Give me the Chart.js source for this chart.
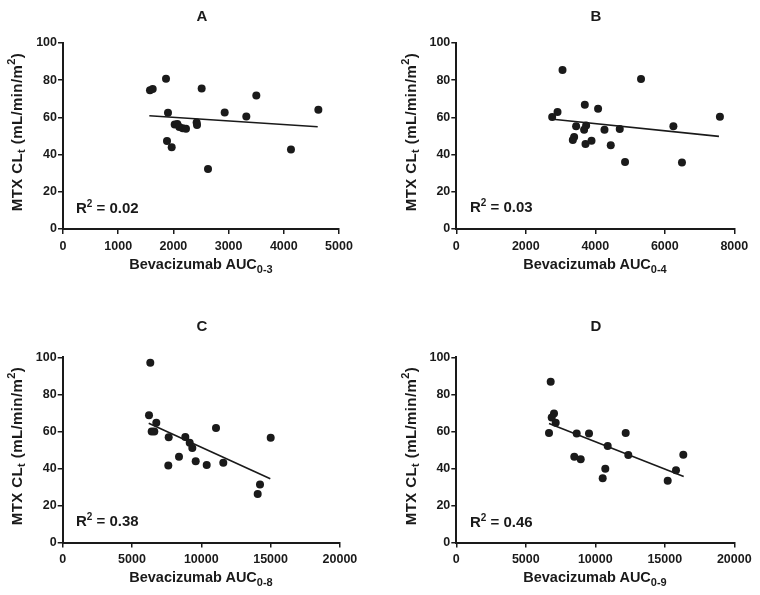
<!DOCTYPE html>
<html>
<head>
<meta charset="utf-8">
<script src="https://cdn.jsdelivr.net/npm/chart.js@4.4.1/dist/chart.umd.min.js"></script>
<style>
  html, body { margin: 0; padding: 0; background: #fff; }
  #wrap { position: relative; width: 760px; height: 595px; overflow: hidden; font-family: "Liberation Sans", Arial, sans-serif; color: #1a1a1a; }
  canvas { position: absolute; }
  .t { position: absolute; font-weight: bold; white-space: nowrap; transform: translate(-50%, -50%); line-height: 1; }
  .letter { font-size: 15px; }
  .xt { font-size: 14.5px; }
  .xt sub { font-size: 11px; vertical-align: -4px; }
  .yt { font-size: 15px; letter-spacing: 0.4px; transform: translate(-50%, -50%) rotate(-90deg); }
  .yt sub { font-size: 11px; vertical-align: -3px; }
  .yt sup { font-size: 11px; vertical-align: 7px; }
  .r2 sup { font-size: 10px; vertical-align: 6px; }
  .r2 { position: absolute; font-weight: bold; font-size: 15px; white-space: nowrap; transform: translateY(-50%); line-height: 1; }
</style>
</head>
<body>
<div id="wrap">
  <canvas id="cA" width="380" height="297" style="left:0;top:0"></canvas>
  <canvas id="cB" width="380" height="297" style="left:380px;top:0"></canvas>
  <canvas id="cC" width="380" height="298" style="left:0;top:297px"></canvas>
  <canvas id="cD" width="380" height="298" style="left:380px;top:297px"></canvas>

  <div class="t letter" style="left:202px;top:15px">A</div>
  <div class="t letter" style="left:596px;top:15px">B</div>
  <div class="t letter" style="left:202px;top:325px">C</div>
  <div class="t letter" style="left:596px;top:325px">D</div>

  <div class="t yt" style="left:16px;top:132px">MTX CL<sub>t</sub> (mL/min/m<sup>2</sup>)</div>
  <div class="t yt" style="left:410px;top:132px">MTX CL<sub>t</sub> (mL/min/m<sup>2</sup>)</div>
  <div class="t yt" style="left:16px;top:446px">MTX CL<sub>t</sub> (mL/min/m<sup>2</sup>)</div>
  <div class="t yt" style="left:410px;top:446px">MTX CL<sub>t</sub> (mL/min/m<sup>2</sup>)</div>

  <div class="t xt" style="left:201px;top:266px">Bevacizumab AUC<sub>0-3</sub></div>
  <div class="t xt" style="left:595px;top:266px">Bevacizumab AUC<sub>0-4</sub></div>
  <div class="t xt" style="left:201px;top:579px">Bevacizumab AUC<sub>0-8</sub></div>
  <div class="t xt" style="left:595px;top:579px">Bevacizumab AUC<sub>0-9</sub></div>

  <div class="r2" style="left:76px;top:207px">R<sup>2</sup> = 0.02</div>
  <div class="r2" style="left:470px;top:206px">R<sup>2</sup> = 0.03</div>
  <div class="r2" style="left:76px;top:520px">R<sup>2</sup> = 0.38</div>
  <div class="r2" style="left:470px;top:521px">R<sup>2</sup> = 0.46</div>
</div>
<script>
// ---- Panel A: AUC 0-3 ----
const aucA = [1576, 1625, 1866, 2512, 3502, 4626, 1902, 2929, 3321, 2023, 2071, 2107, 2168, 2228, 2421, 2428, 1884, 1969, 2627, 4130];
const mtxA = [74.6, 75.3, 80.8, 75.6, 71.8, 64.1, 62.5, 62.7, 60.5, 56.2, 56.4, 54.8, 54.1, 53.9, 57.3, 55.9, 47.3, 43.9, 32.3, 42.8];
const fitXA = [1564, 4614];
const fitYA = [60.9, 55.0];

// ---- Panel B: AUC 0-4 ----
const aucB = [3057, 5316, 3698, 4080, 2913, 2759, 7586, 3448, 3736, 3678, 4264, 4704, 6247, 3391, 3353, 3718, 3891, 4445, 4856, 6494];
const mtxB = [85.5, 80.6, 66.8, 64.7, 62.9, 60.2, 60.4, 55.2, 55.7, 53.4, 53.4, 53.8, 55.2, 49.4, 47.8, 45.7, 47.5, 45.0, 36.0, 35.8];
const fitXB = [2713, 7558];
const fitYB = [59.1, 49.8];

// ---- Panel C: AUC 0-8 ----
const aucC = [6320, 6227, 6753, 6421, 6609, 7648, 8846, 9163, 9351, 11061, 15007, 8391, 7619, 9596, 10390, 11587, 14235, 14069];
const mtxC = [97.1, 68.7, 64.7, 59.9, 60.0, 56.8, 56.9, 53.9, 51.0, 61.8, 56.6, 46.3, 41.6, 43.9, 41.8, 43.1, 31.3, 26.2];
const fitXC = [6205, 14978];
const fitYC = [64.4, 34.4];

// ---- Panel D: AUC 0-9 ----
const aucD = [6791, 7029, 6863, 7151, 6669, 8662, 9547, 12187, 10892, 12374, 16331, 8489, 8950, 10719, 10532, 15806, 15209];
const mtxD = [86.8, 69.6, 67.5, 64.7, 59.1, 58.9, 58.8, 59.1, 52.1, 47.2, 47.4, 46.3, 45.0, 39.8, 34.7, 39.0, 33.3];
const fitXD = [6669, 16360];
const fitYD = [64.2, 35.6];

// axis tick settings
const yMax = 100, yStep = 20;
const xMaxA = 5000, xStepA = 1000;
const xMaxB = 8000, xStepB = 2000;
const xMaxC = 20000, xStepC = 5000;
const xMaxD = 20000, xStepD = 5000;

const INK = '#1a1a1a';
const tickFont = { family: '"Liberation Sans", Arial, sans-serif', size: 12.5, weight: 'bold' };

function pts(xs, ys) { return xs.map((x, i) => ({ x: x, y: ys[i] })); }

function makePanel(id, xs, ys, fx, fy, xMax, xStep, pad) {
  new Chart(document.getElementById(id), {
    type: 'scatter',
    data: {
      datasets: [
        {
          data: pts(xs, ys),
          backgroundColor: INK,
          borderColor: INK,
          borderWidth: 0,
          pointRadius: 4,
          pointHoverRadius: 4
        },
        {
          data: pts(fx, fy),
          showLine: true,
          borderColor: INK,
          borderWidth: 1.6,
          pointRadius: 0,
          fill: false
        }
      ]
    },
    options: {
      responsive: false,
      animation: false,
      devicePixelRatio: 1,
      layout: { padding: pad },
      plugins: { legend: { display: false }, tooltip: { enabled: false } },
      scales: {
        x: {
          type: 'linear',
          min: 0, max: xMax,
          afterFit: (s) => { s.height = 30; },
          ticks: { stepSize: xStep, color: INK, font: tickFont, padding: 5, maxRotation: 0, callback: (v) => String(v) },
          grid: { display: true, drawOnChartArea: false, drawTicks: true, tickLength: 5, color: INK, lineWidth: 1.5 },
          border: { display: true, color: INK, width: 2 }
        },
        y: {
          type: 'linear',
          min: 0, max: yMax,
          afterFit: (s) => { s.width = 40; },
          ticks: { stepSize: yStep, color: INK, font: tickFont, padding: 1, callback: (v) => String(v) },
          grid: { display: true, drawOnChartArea: false, drawTicks: true, tickLength: 5, color: INK, lineWidth: 1.5 },
          border: { display: true, color: INK, width: 2 }
        }
      }
    }
  });
}

makePanel('cA', aucA, mtxA, fitXA, fitYA, xMaxA, xStepA, { left: 23, right: 41, top: 43, bottom: 38 });
makePanel('cB', aucB, mtxB, fitXB, fitYB, xMaxB, xStepB, { left: 36.3, right: 25.7, top: 43, bottom: 38 });
makePanel('cC', aucC, mtxC, fitXC, fitYC, xMaxC, xStepC, { left: 22.7, right: 40.1, top: 60.3, bottom: 22.5 });
makePanel('cD', aucD, mtxD, fitXD, fitYD, xMaxD, xStepD, { left: 36.3, right: 25.7, top: 60.3, bottom: 22.5 });
</script>
</body>
</html>
